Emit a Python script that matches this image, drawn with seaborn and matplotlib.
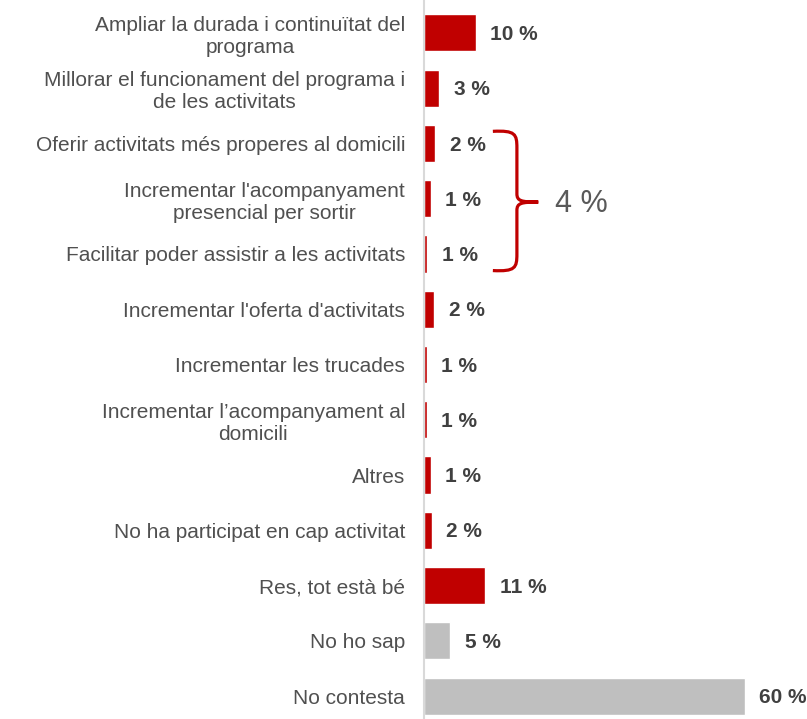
import matplotlib
matplotlib.use("Agg")
import matplotlib.pyplot as plt
from matplotlib.path import Path
from matplotlib.patches import PathPatch
import seaborn as sns
import pandas as pd

categories = [
    "Ampliar la durada i continuïtat del\nprograma",
    "Millorar el funcionament del programa i\nde les activitats",
    "Oferir activitats més properes al domicili",
    "Incrementar l'acompanyament\npresencial per sortir",
    "Facilitar poder assistir a les activitats",
    "Incrementar l'oferta d'activitats",
    "Incrementar les trucades",
    "Incrementar l’acompanyament al\ndomicili",
    "Altres",
    "No ha participat en cap activitat",
    "Res, tot està bé",
    "No ho sap",
    "No contesta",
]
values = [9.6, 2.8, 2.0, 1.2, 0.5, 1.8, 0.4, 0.4, 1.2, 1.4, 11.4, 4.8, 60.0]
value_labels = ["10 %", "3 %", "2 %", "1 %", "1 %", "2 %", "1 %", "1 %", "1 %", "2 %", "11 %", "5 %", "60 %"]
groups = ["millora"] * 11 + ["nsnc"] * 2
bracket_label = "4 %"

RED = "#C00000"
GREY = "#BFBFBF"
TEXT = "#404040"
CAT_TEXT = "#505050"

df = pd.DataFrame({"cat": categories, "val": values, "grp": groups})

sns.set_style("white")
plt.rcParams["font.family"] = ["Liberation Sans", "DejaVu Sans"]

fig = plt.figure(figsize=(8.07, 7.19), dpi=100)
ax = fig.add_axes([0.526, 0.0, 0.474, 1.0])

sns.barplot(data=df, x="val", y="cat", hue="grp", palette={"millora": RED, "nsnc": GREY},
            dodge=False, legend=False, width=0.67, orient="h", ax=ax, saturation=1)

ax.set_xlim(0, 71.6)
ax.set_ylim(12.416, -0.597)
ax.set_xlabel("")
ax.set_ylabel("")
ax.set_xticks([])
ax.tick_params(axis="y", length=0, pad=14, labelsize=15, labelcolor=CAT_TEXT)
for lab in ax.get_yticklabels():
    lab.set_horizontalalignment("right")
    lab.set_multialignment("center")
    lab.set_linespacing(1.2)

for s in ["top", "right", "bottom"]:
    ax.spines[s].set_visible(False)
ax.spines["left"].set_color("#D9D9D9")
ax.spines["left"].set_linewidth(1.5)

for i, (v, lab) in enumerate(zip(values, value_labels)):
    ax.text(v + 2.7, i + 0.03, lab, va="center", ha="left", fontsize=15, fontweight="bold", color=TEXT)

# bracket grouping rows 2-4
x0, x1, xt = 12.8, 17.3, 21.3
yt, yb = 1.78, 4.3
ym = 3.06
verts = [
    (x0, yt), (x1 - 0.3, yt - 0.02), (x1, yt + 0.05), (x1, yt + 0.3),
    (x1, ym - 0.15),
    (x1, ym - 0.02), (x1 + 0.8, ym), (xt, ym),
    (x1 + 0.8, ym), (x1, ym + 0.02), (x1, ym + 0.15),
    (x1, yb - 0.3),
    (x1, yb - 0.05), (x1 - 0.3, yb + 0.02), (x0, yb),
]
codes = [Path.MOVETO, Path.CURVE4, Path.CURVE4, Path.CURVE4,
         Path.LINETO,
         Path.CURVE4, Path.CURVE4, Path.CURVE4,
         Path.CURVE4, Path.CURVE4, Path.CURVE4,
         Path.LINETO,
         Path.CURVE4, Path.CURVE4, Path.CURVE4]
ax.add_patch(PathPatch(Path(verts, codes), fill=False, edgecolor=RED, linewidth=2.3, capstyle="butt"))
ax.text(24.4, ym + 0.03, bracket_label, va="center", ha="left", fontsize=22, color="#595959")

fig.savefig("out.png", dpi=100)
